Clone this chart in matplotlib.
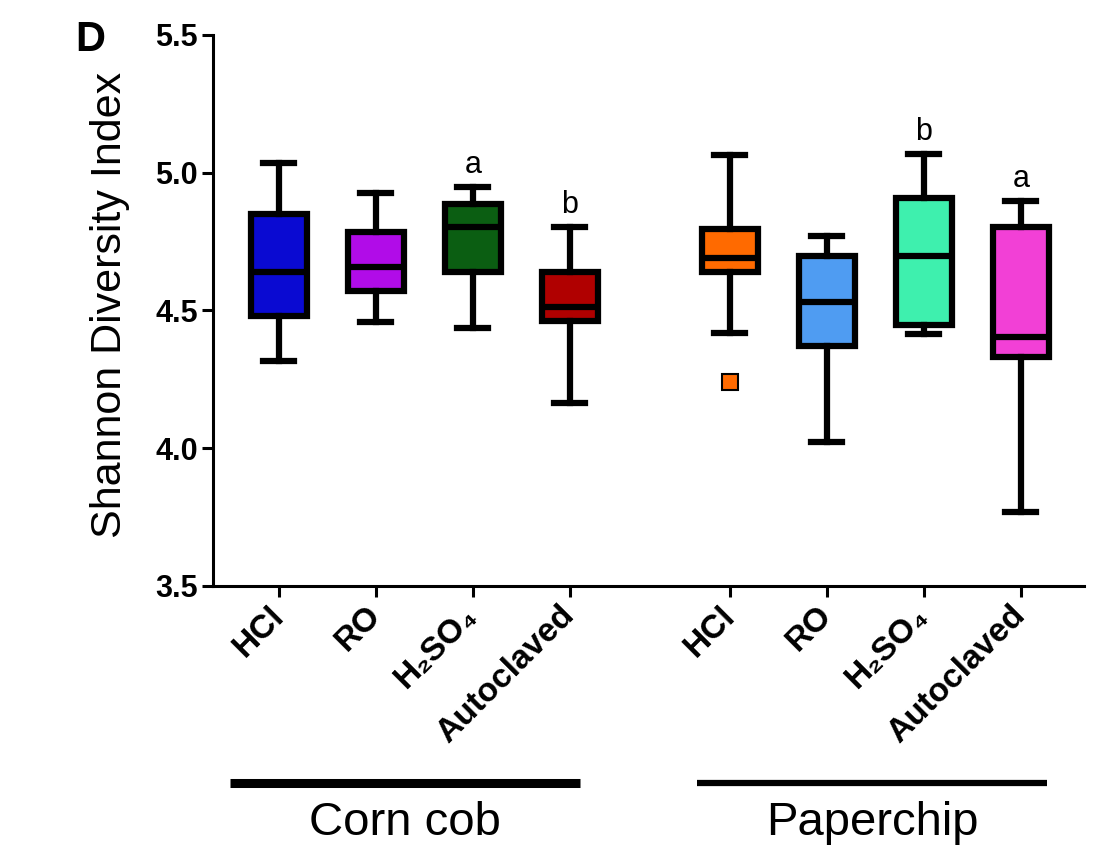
import numpy as np
import matplotlib
matplotlib.use('Agg')
import matplotlib.pyplot as plt

plt.rcParams['font.family'] = ['Liberation Sans', 'DejaVu Sans']

# Data
groups = ['Corn cob', 'Paperchip']
treatments = ['HCl', 'RO', 'H\u2082SO\u2084', 'Autoclaved']
whislo = [4.315, 4.457, 4.435, 4.163, 4.42, 4.022, 4.413, 3.768]
q1 = [4.48, 4.569, 4.641, 4.46, 4.638, 4.37, 4.446, 4.33]
med = [4.638, 4.659, 4.804, 4.514, 4.692, 4.529, 4.696, 4.402]
q3 = [4.851, 4.786, 4.888, 4.641, 4.797, 4.699, 4.909, 4.804]
whishi = [5.036, 4.928, 4.949, 4.804, 5.065, 4.772, 5.069, 4.899]
outliers = [[], [], [], [], [4.239], [], [], []]
letters = ['', '', 'a', 'b', '', '', 'b', 'a']
colors = ['#0a0ad2', '#b10ce8', '#0b5e12', '#b00000',
          '#ff6a00', '#4f9cf2', '#3ef0ae', '#f240d6']

positions = [0, 1, 2, 3, 4.65, 5.65, 6.65, 7.65]

fig = plt.figure(figsize=(11.07, 8.61), dpi=100)
ax = fig.add_axes([0.1924, 0.3194, 0.7868, 0.64])

stats = []
for i in range(len(med)):
    stats.append(dict(whislo=whislo[i], q1=q1[i], med=med[i], q3=q3[i],
                      whishi=whishi[i], fliers=outliers[i]))

bp = ax.bxp(stats, positions=positions, widths=0.58, patch_artist=True,
            boxprops=dict(linewidth=4.5, edgecolor='black'),
            medianprops=dict(color='black', linewidth=4.5),
            whiskerprops=dict(color='black', linewidth=4.5),
            capprops=dict(color='black', linewidth=4.5),
            capwidths=0.32,
            flierprops=dict(marker='s', markersize=11, markeredgecolor='black',
                            markeredgewidth=1.5))
for patch, c in zip(bp['boxes'], colors):
    patch.set_facecolor(c)
for fl, c in zip(bp['fliers'], colors):
    fl.set_markerfacecolor(c)

# significance letters
for p, hi, lab in zip(positions, whishi, letters):
    if lab:
        ax.annotate(lab, (p, hi), xytext=(0, 5), textcoords='offset points',
                    ha='center', va='bottom', fontsize=22)

ax.set_xlim(-0.68, 8.3)
ax.set_ylim(3.5, 5.5)
ax.set_yticks([3.5, 4.0, 4.5, 5.0, 5.5])
ax.set_yticklabels(['3.5', '4.0', '4.5', '5.0', '5.5'], fontsize=22, fontweight='bold')
ax.set_xticks(positions)
ax.set_xticklabels(treatments * 2, fontsize=24, fontweight='bold', rotation=45,
                   ha='right', va='center', rotation_mode='anchor')

for s in ['top', 'right']:
    ax.spines[s].set_visible(False)
for s in ['left', 'bottom']:
    ax.spines[s].set_linewidth(2.2)
ax.tick_params(axis='both', width=2.2, length=8)
ax.tick_params(axis='y', pad=3)
ax.tick_params(axis='x', pad=10)

ax.set_ylabel('Shannon Diversity Index', fontsize=31)
ax.yaxis.set_label_coords(-0.095, 0.51)

# group bars and names
trans = ax.get_xaxis_transform()
group_spans = [(-0.5, 3.1), (4.31, 7.92)]
group_lw = [6.5, 4.5]
for name, (a, b), lw in zip(groups, group_spans, group_lw):
    ax.plot([a, b], [-0.3575, -0.3575], color='black', lw=lw,
            transform=trans, clip_on=False, solid_capstyle='butt')
    ax.text((a + b) / 2, -0.39, name, transform=trans, ha='center',
            va='top', fontsize=34)

fig.text(0.068, 0.953, 'D', fontsize=30, fontweight='bold', ha='left', va='center')

fig.savefig('out.png', dpi=100)
